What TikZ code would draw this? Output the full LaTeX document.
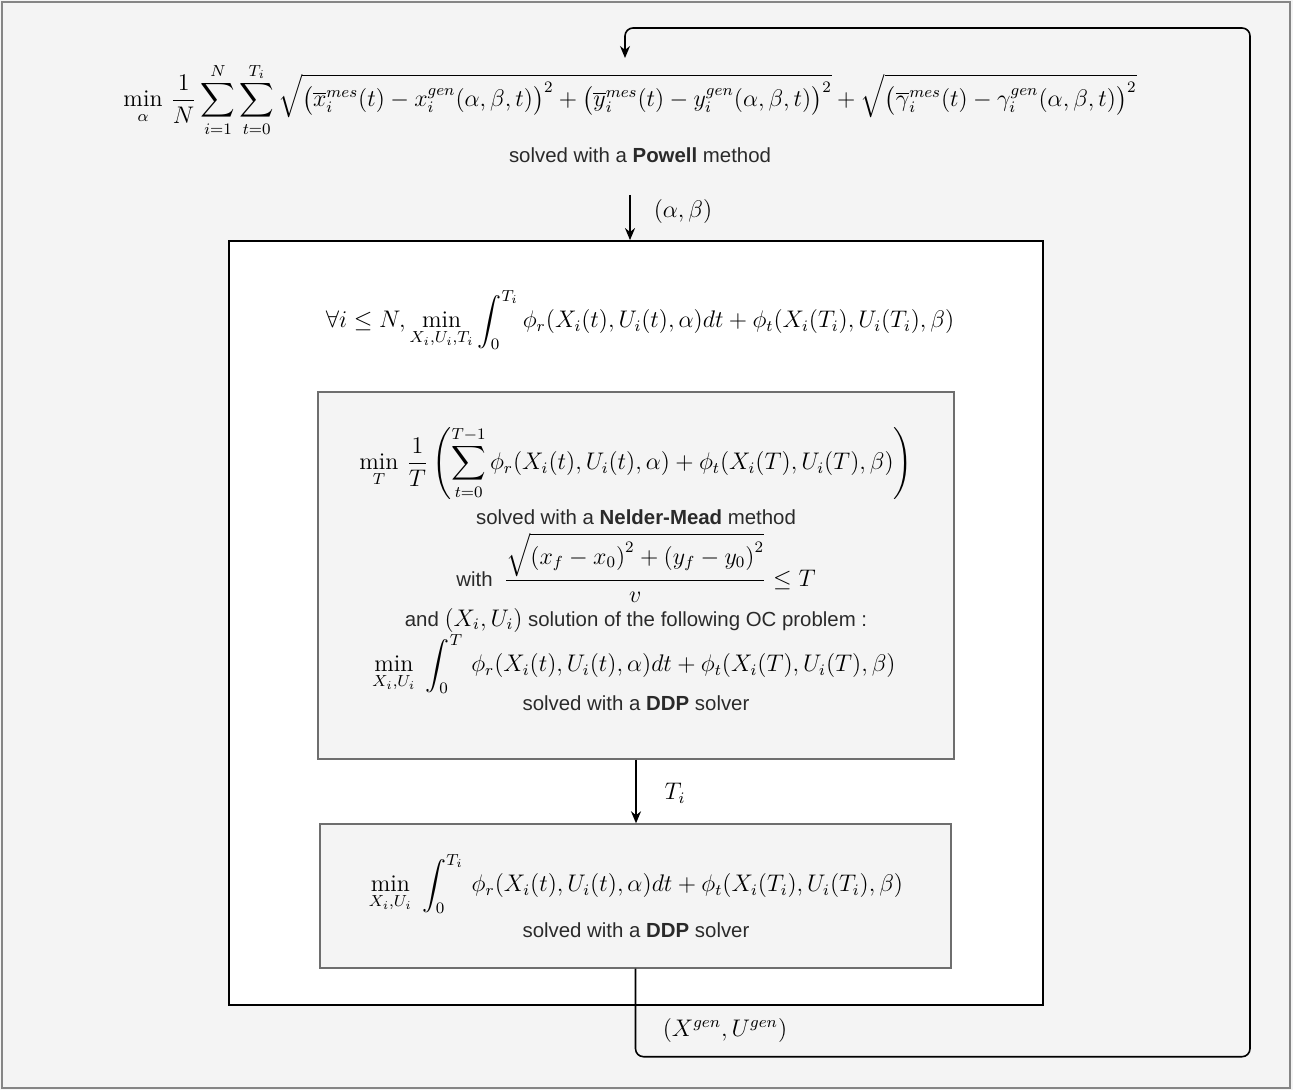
\documentclass[tikz,border=0pt]{standalone}
\usepackage{amsmath}
\usepackage{fontspec}
\newfontfamily\drawfont{Liberation Sans}
\usetikzlibrary{arrows.meta}

\definecolor{pagebg}{HTML}{F4F4F4}
\definecolor{pageframe}{HTML}{858585}
\definecolor{boxframe}{HTML}{6E6E6E}
\definecolor{boxfill}{HTML}{F4F4F4}
\definecolor{captext}{HTML}{2A2A2A}

\newcommand{\capmath}[1]{{\large\color{black}$#1$}}

\tikzset{
  mainbox/.style={draw=black, fill=white, line width=0.9pt,
    minimum width=407pt, minimum height=382pt, inner sep=0pt},
  solverbox/.style={draw=boxframe, fill=boxfill, line width=0.7pt, inner sep=0pt},
  formula/.style={inner sep=0pt, font=\large},
  caption/.style={inner sep=0pt, text=captext, font=\drawfont\fontsize{10.2}{12}\selectfont},
  flow/.style={-{Stealth[length=6pt,width=5pt]}, line width=0.8pt},
  feedback/.style={flow, rounded corners=4pt}
}

\begin{document}
\begin{tikzpicture}[x=0.5pt, y=-0.5pt]
  % page
  \useasboundingbox (0,0) rectangle (1293,1090);
  \fill[pagebg] (0,0) rectangle (1293,1090);
  \draw[pageframe, line width=1pt] (2,2) rectangle (1290,1088);

  % outer problem
  \node[formula] (powell) at (630,100)
    {$\displaystyle \min_{\alpha}\,\frac{1}{N}\sum_{i=1}^{N}\sum_{t=0}^{T_i}\sqrt{\bigl(\overline{x}_i^{mes}(t)-x_i^{gen}(\alpha,\beta,t)\bigr)^2+\bigl(\overline{y}_i^{mes}(t)-y_i^{gen}(\alpha,\beta,t)\bigr)^2}+\sqrt{\bigl(\overline{\gamma}_i^{mes}(t)-\gamma_i^{gen}(\alpha,\beta,t)\bigr)^2}$};
  \node[caption] (powelltxt) at (640,155) {solved with a \textbf{Powell} method};
  \coordinate (powellout) at (630,195);
  \coordinate (loopin) at (625,58);

  % inner problem
  \node[mainbox] (inner) at (636,623) {};
  \node[formula] (forall) at (640,320)
    {$\displaystyle \forall i\leq N,\min_{X_i,U_i,T_i}\int_0^{T_i}\phi_r(X_i(t),U_i(t),\alpha)dt+\phi_t(X_i(T_i),U_i(T_i),\beta)$};

  % Nelder-Mead box
  \node[solverbox, minimum width=318pt, minimum height=183.5pt] (nm) at (636,575.5) {};
  \node[formula] (nmcost) at (636,463)
    {$\displaystyle \min_{T}\,\frac{1}{T}\left(\sum_{t=0}^{T-1}\phi_r(X_i(t),U_i(t),\alpha)+\phi_t(X_i(T),U_i(T),\beta)\right)$};
  \node[caption] (nmtxt) at (636,517) {solved with a \textbf{Nelder-Mead} method};
  \node[caption] (nmbound) at (636,568)
    {with \ \capmath{\displaystyle\frac{\sqrt{\left(x_f-x_0\right)^2+\left(y_f-y_0\right)^2}}{v}\leq T}};
  \node[caption] (nmand) at (636,620) {and \capmath{\left(X_i,U_i\right)} solution of the following OC problem :};
  \node[formula] (nmoc) at (634,664)
    {$\displaystyle \min_{X_i,U_i}\;\int_0^{T}\,\phi_r(X_i(t),U_i(t),\alpha)dt+\phi_t(X_i(T),U_i(T),\beta)$};
  \node[caption] (nmddp) at (636,703) {solved with a \textbf{DDP} solver};

  % DDP box
  \node[solverbox, minimum width=315.5pt, minimum height=72pt] (ddp) at (635.5,896) {};
  \node[formula] (ddpcost) at (636,884)
    {$\displaystyle \min_{X_i,U_i}\;\int_0^{T_i}\,\phi_r(X_i(t),U_i(t),\alpha)dt+\phi_t(X_i(T_i),U_i(T_i),\beta)$};
  \node[caption] (ddptxt) at (636,930) {solved with a \textbf{DDP} solver};

  % connectors
  \draw[flow] (powellout) -- (powellout |- inner.north);
  \node[formula] (ablabel) at (683,212) {$(\alpha,\beta)$};
  \draw[flow] (nm.south) -- (nm.south |- ddp.north);
  \node[formula] (tlabel) at (675,793) {$T_i$};
  \draw[feedback] (ddp.south) -- ++(0,88) -| (1250,28) -| (loopin);
  \node[formula] (genlabel) at (725,1030) {$(X^{gen},U^{gen})$};
\end{tikzpicture}
\end{document}
